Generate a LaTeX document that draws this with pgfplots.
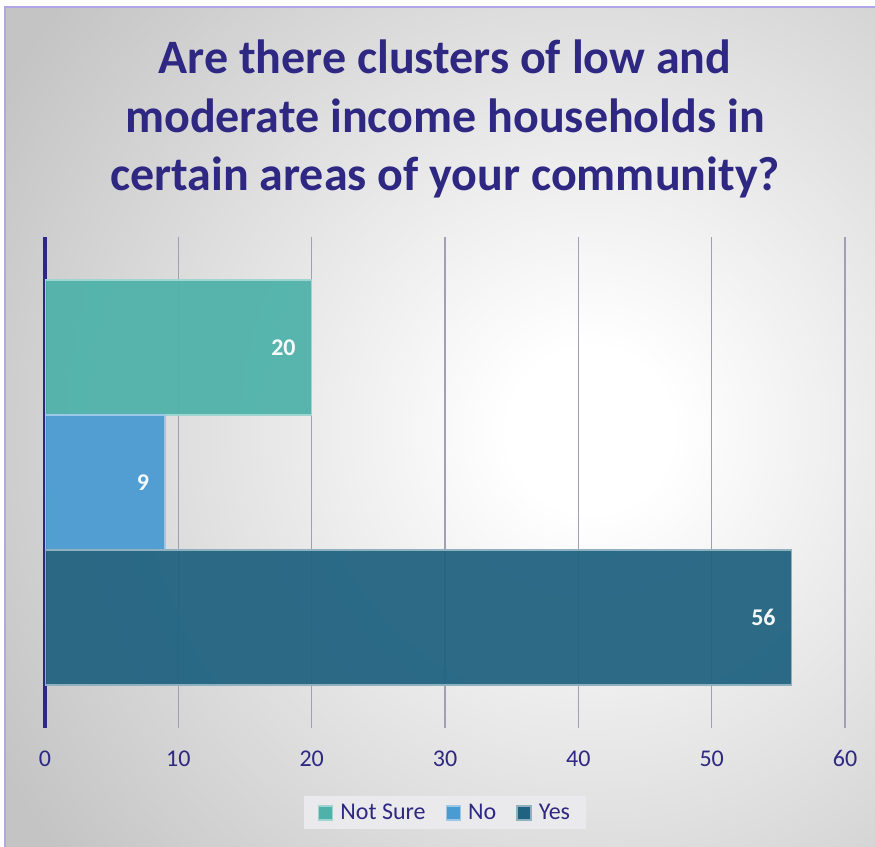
\documentclass[border=0pt]{standalone}
\usepackage{pgfplots}
\pgfplotsset{compat=1.18}
\usepackage{fontspec}
\setmainfont{Carlito}
\definecolor{titlecol}{RGB}{46,40,130}
\definecolor{gridcol}{RGB}{160,160,178}
\definecolor{notsure}{RGB}{78,178,170}
\definecolor{nocol}{RGB}{74,155,210}
\definecolor{yescol}{RGB}{32,98,128}
\definecolor{legendbg}{RGB}{234,234,236}
\definecolor{framecol}{RGB}{176,168,230}
\definecolor{bgedge}{RGB}{196,196,196}
\pgfdeclareradialshading{bgshade}{\pgfpoint{0bp}{0bp}}{color(0bp)=(white); color(3bp)=(white); color(25bp)=(bgedge); color(50bp)=(bgedge)}
\begin{document}
\begin{tikzpicture}[x=1pt,y=1pt]
\fill[white] (0,0) rectangle (875,846);
\begin{scope}
\clip (5,-20) rectangle (900,839);
\fill[bgedge] (5,-20) rectangle (900,839);
\shade[shading=bgshade] (590,416) circle (680);
\end{scope}
\draw[framecol, line width=2pt] (5,-20) -- (5,839) -- (900,839);
\node[align=center, text=titlecol, font=\bfseries\fontsize{48}{58.5}\selectfont, anchor=base] at (445,655) {Are there clusters of low and\\moderate income households in\\certain areas of your community?};
\begin{axis}[
  at={(45pt,118pt)}, anchor=south west, scale only axis,
  width=800pt, height=491pt,
  /pgf/number format/assume math mode=true,
  xbar, bar width=1, bar shift=0pt,
  xmin=0, xmax=60, ymin=-0.82, ymax=2.82,
  xtick={0,10,...,60}, ytick=\empty,
  xmajorgrids, grid style={color=gridcol, line width=1.2pt},
  major tick length=0pt,
  separate axis lines, axis x line*=bottom, axis y line*=left,
  x axis line style={draw=none},
  y axis line style={draw=titlecol, line width=4pt, -},
  xticklabel style={font=\fontsize{24}{28}\selectfont, text=titlecol, yshift=-19pt},
  nodes near coords,
  every node near coord/.append style={white, font=\bfseries\fontsize{24}{28}\selectfont, anchor=east, xshift=-12pt},
  legend columns=-1,
  legend style={at={(0.5,-0.173)}, anchor=center, draw=none, fill=legendbg,
    font=\fontsize{24}{28}\selectfont, text=titlecol,
    /tikz/every odd column/.append style={column sep=5pt},
    /tikz/every even column/.append style={column sep=18pt},
    inner xsep=14pt, inner ysep=6pt},
  legend image code/.code={\draw[#1, line width=1.5pt, fill opacity=1] (0pt,-7pt) rectangle (14pt,7pt);},
]
\addplot[fill=notsure, draw=notsure!55!white, line width=1.5pt, fill opacity=0.94] coordinates {(20,2)};
\addplot[fill=nocol, draw=nocol!55!white, line width=1.5pt, fill opacity=0.94] coordinates {(9,1)};
\addplot[fill=yescol, draw=yescol!50!white, line width=1.5pt, fill opacity=0.94] coordinates {(56,0)};
\legend{Not Sure, No, Yes}
\end{axis}
\pgfresetboundingbox
\useasboundingbox (0,0) rectangle (875,846);
\end{tikzpicture}
\end{document}
